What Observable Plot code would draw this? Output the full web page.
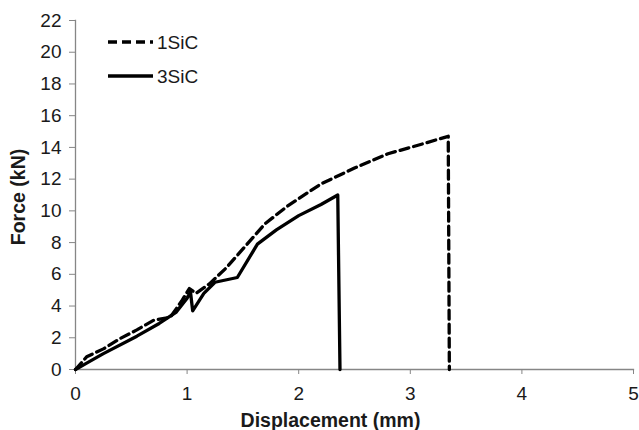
<!DOCTYPE html>
<html><head><meta charset="utf-8">
<script src="https://cdn.jsdelivr.net/npm/d3@7"></script>
<script src="https://cdn.jsdelivr.net/npm/@observablehq/plot@0.6"></script>
<style>
body{margin:0;background:#fff;}
#wrap{position:relative;width:639px;height:430px;}
</style></head>
<body><div id="wrap"></div>
<script>
const seriesNames = ["1SiC", "3SiC"];
const disp1SiC  = [0, 0.1, 0.25, 0.4, 0.55, 0.7, 0.85, 0.95, 1.02, 1.08, 1.2, 1.35, 1.5, 1.7, 1.9, 2.2, 2.5, 2.8, 3.1, 3.34, 3.35];
const force1SiC = [0, 0.8, 1.3, 1.95, 2.5, 3.1, 3.3, 4.3, 5.1, 4.8, 5.4, 6.4, 7.6, 9.2, 10.3, 11.7, 12.7, 13.6, 14.2, 14.7, 0];
const disp3SiC  = [0, 0.1, 0.25, 0.55, 0.75, 0.9, 1.0, 1.03, 1.05, 1.15, 1.25, 1.45, 1.63, 1.8, 2.0, 2.2, 2.35, 2.37];
const force3SiC = [0, 0.4, 1.0, 2.1, 2.9, 3.6, 4.5, 4.9, 3.7, 4.8, 5.5, 5.8, 7.9, 8.8, 9.7, 10.4, 11.0, 0];
const xTicks = [0, 1, 2, 3, 4, 5];
const yTicks = [0, 2, 4, 6, 8, 10, 12, 14, 16, 18, 20, 22];
const xLabel = "Displacement (mm)";
const yLabel = "Force (kN)";

const d1 = disp1SiC.map((x, i) => ({x, y: force1SiC[i], s: seriesNames[0]}));
const d3s = disp3SiC.map((x, i) => ({x, y: force3SiC[i], s: seriesNames[1]}));
const axisColor = "#868686";
const font = "'Liberation Sans', Arial, sans-serif";

const chart = Plot.plot({
  width: 639, height: 430,
  marginLeft: 75, marginRight: 6, marginTop: 20, marginBottom: 61,
  style: {fontFamily: font, fontSize: "19px", color: "#1a1a1a", background: "#fff", overflow: "visible"},
  x: {domain: [0, 5], ticks: xTicks, label: null},
  y: {domain: [0, 22], ticks: yTicks, label: null},
  marks: [
    Plot.frame({anchor: "left", stroke: axisColor, strokeWidth: 1.3}),
    Plot.frame({anchor: "bottom", stroke: axisColor, strokeWidth: 1.3}),
    Plot.axisX({ticks: xTicks, tickFormat: d => String(d), tickSize: 5, tickPadding: 12, stroke: axisColor, fontSize: 19}),
    Plot.axisY({ticks: yTicks, tickFormat: d => String(d), tickSize: 6, tickPadding: 8, stroke: axisColor, fontSize: 19}),
    Plot.line(d1, {x: "x", y: "y", stroke: "black", strokeWidth: 3.3, strokeDasharray: "9,5", strokeLinejoin: "round"}),
    Plot.line(d3s, {x: "x", y: "y", stroke: "black", strokeWidth: 3.3, strokeLinejoin: "round"}),
    Plot.text([xLabel], {frameAnchor: "bottom", textAnchor: "middle", lineAnchor: "middle", dx: -24, dy: 51, fontWeight: "bold", fontSize: 19.5, fill: "#1a1a1a"}),
    Plot.text([yLabel], {frameAnchor: "left", textAnchor: "middle", lineAnchor: "middle", dx: -57, dy: 2, rotate: -90, fontWeight: "bold", fontSize: 19.5, fill: "#1a1a1a"})
  ]
});
document.getElementById("wrap").appendChild(chart);

// in-plot legend
const svg = d3.select(chart);
const lg = svg.append("g").attr("font-family", font).attr("font-size", 19).attr("fill", "#1a1a1a").attr("text-anchor", "start");
const rows = [{name: seriesNames[0], dash: "9,5", y: 42}, {name: seriesNames[1], dash: null, y: 76}];
rows.forEach(r => {
  lg.append("line").attr("x1", 108).attr("x2", 153).attr("y1", r.y).attr("y2", r.y)
    .attr("stroke", "black").attr("stroke-width", 3.3).attr("stroke-dasharray", r.dash);
  lg.append("text").attr("x", 157).attr("y", r.y).attr("dy", "0.36em").attr("text-anchor", "start").text(r.name);
});
</script>
</body></html>
